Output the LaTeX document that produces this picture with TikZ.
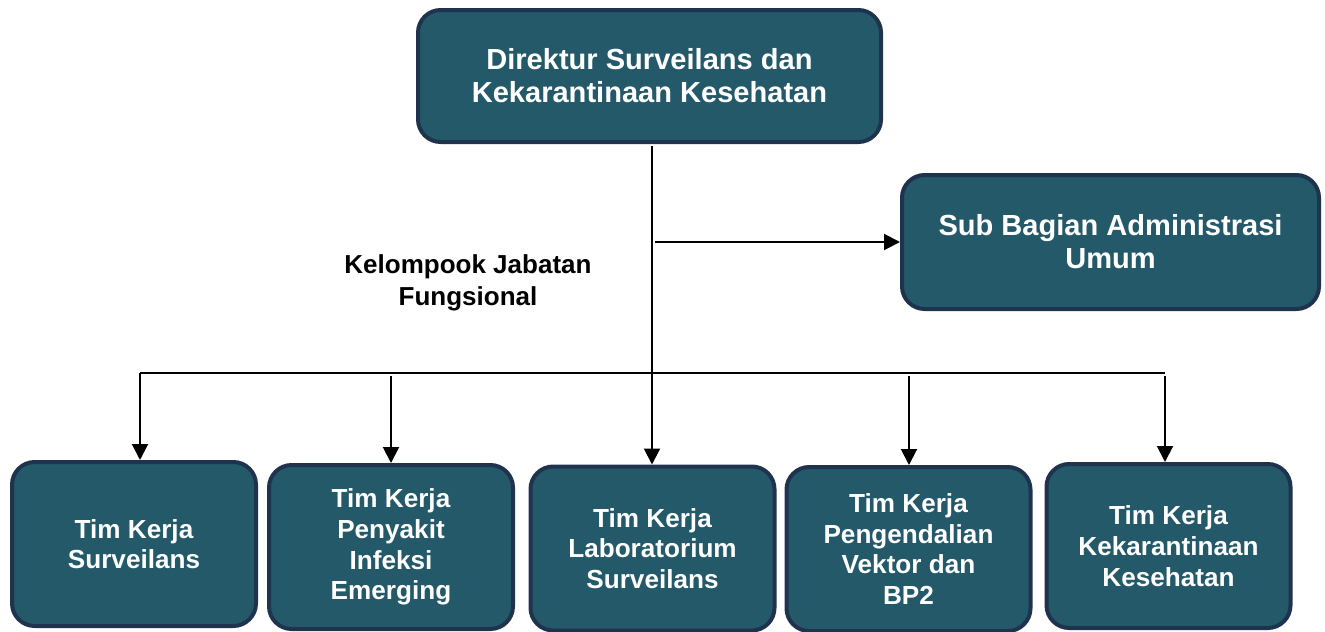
\documentclass[tikz,border=0pt]{standalone}
\usepackage{fontspec}
\setmainfont{Liberation Sans}
\usetikzlibrary{arrows.meta}
\definecolor{boxfill}{RGB}{35,89,104}
\definecolor{boxline}{RGB}{31,51,79}
\begin{document}
\begin{tikzpicture}[x=0.75pt,y=-0.75pt,
  orgbox/.style={draw=boxline,fill=boxfill,line width=3pt,rounded corners=17pt,
    text=white,align=center,inner sep=0pt,font=\bfseries},
  bigbox/.style={orgbox,font=\fontsize{21.8}{24.75}\selectfont\bfseries},
  teambox/.style={orgbox,minimum width=183pt,minimum height=123pt,
    font=\fontsize{19.6}{23}\selectfont\bfseries},
  conn/.style={line width=1.5pt,black},
  arr/.style={conn,-{Triangle[length=12pt,width=12pt]}}]
\useasboundingbox (0,0) rectangle (1325,632);

\node[bigbox,minimum width=347.25pt,minimum height=99pt] (top) at (649.5,76)
  {Direktur Surveilans dan\\Kekarantinaan Kesehatan};
\node[bigbox,minimum width=312.75pt,minimum height=100.5pt] (sub) at (1110.5,242)
  {Sub Bagian Administrasi\\Umum};

\node[teambox] (b1) at (134,544) {Tim Kerja\\Surveilans};
\node[teambox] (b2) at (391,547) {Tim Kerja\\Penyakit\\Infeksi\\Emerging};
\node[teambox] (b3) at (652.5,548.5) {Tim Kerja\\Laboratorium\\Surveilans};
\node[teambox] (b4) at (908.5,549) {Tim Kerja\\Pengendalian\\Vektor dan\\BP2};
\node[teambox] (b5) at (1168.5,546) {Tim Kerja\\Kekarantinaan\\Kesehatan};

\node[align=center,font=\fontsize{19.5}{24}\selectfont\bfseries] (kjf) at (468,283)
  {Kelompook Jabatan\\Fungsional};

% trunk
\coordinate (t0) at (652,146);
\draw[arr] (t0) -- (652,0 |- b3.north);
% to sub bagian
\coordinate (s0) at (655,242);
\draw[arr] (s0) -- (sub.west);
% bus
\coordinate (busL) at (140,373);
\coordinate (busR) at (1165,373);
\draw[conn] (busL) -- (busR);
\coordinate (d2) at (391,376);
\coordinate (d4) at (909,376);
\coordinate (d5) at (1165,376);
\draw[arr] (busL) -- (busL |- b1.north);
\draw[arr] (d2) -- (d2 |- b2.north);
\draw[arr] (d4) -- (d4 |- b4.north);
\draw[arr] (d5) -- (d5 |- b5.north);
\end{tikzpicture}
\end{document}
